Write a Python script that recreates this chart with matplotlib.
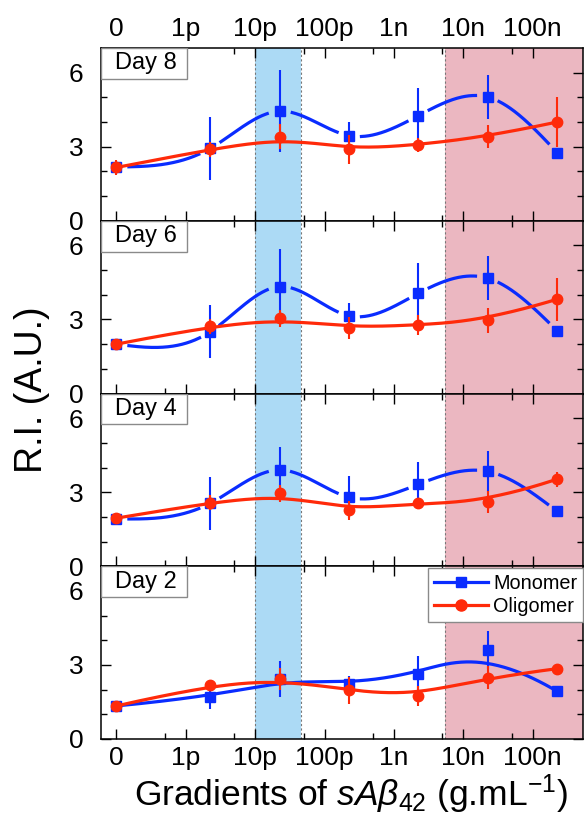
import numpy as np
import matplotlib
matplotlib.use("Agg")
from matplotlib import pyplot as plt
from matplotlib.lines import Line2D
from matplotlib.patches import Rectangle
from matplotlib.ticker import NullFormatter

plt.rcParams['font.family'] = ['Liberation Sans', 'DejaVu Sans']
plt.rcParams['mathtext.fontset'] = 'custom'
plt.rcParams['mathtext.rm'] = 'Liberation Sans'
plt.rcParams['mathtext.it'] = 'Liberation Sans:italic'

# concentrations (g/mL), "0" is drawn at 0.1p
conc = [1e-13, 2.25e-12, 2.25e-11, 2.25e-10, 2.25e-9, 2.25e-8, 2.25e-7]
tick_pos = [1e-13, 1e-12, 1e-11, 1e-10, 1e-9, 1e-8, 1e-7]
tick_lab = ['0', '1p', '10p', '100p', '1n', '10n', '100n']
minor_pos = [5e-13, 5e-12, 5e-11, 5e-10, 5e-9, 5e-8]
days = ['Day 8', 'Day 6', 'Day 4', 'Day 2']

mono_d8 = [2.18, 2.93, 4.44, 3.45, 4.26, 5.01, 2.76]
mono_d6 = [2.00, 2.50, 4.33, 3.15, 4.06, 4.67, 2.54]
mono_d4 = [1.92, 2.55, 3.90, 2.80, 3.32, 3.84, 2.22]
mono_d2 = [1.34, 1.70, 2.42, 2.24, 2.65, 3.60, 1.93]
mono_err_d8 = [0.10, 1.26, 1.65, 0.57, 1.12, 0.88, 0.10]
mono_err_d6 = [0.10, 1.07, 1.53, 0.50, 1.22, 0.90, 0.12]
mono_err_d4 = [0.10, 1.07, 0.93, 0.84, 0.92, 0.85, 0.15]
mono_err_d2 = [0.10, 0.50, 0.73, 0.30, 0.70, 0.78, 0.10]

olig_d8 = [2.16, 2.89, 3.41, 2.89, 3.07, 3.41, 4.00]
olig_d6 = [2.00, 2.73, 3.04, 2.67, 2.77, 2.97, 3.82]
olig_d4 = [1.95, 2.58, 2.96, 2.26, 2.58, 2.60, 3.53]
olig_d2 = [1.34, 2.20, 2.42, 1.97, 1.73, 2.49, 2.85]
olig_err_d8 = [0.29, 0.30, 0.50, 0.58, 0.30, 0.47, 1.00]
olig_err_d6 = [0.15, 0.30, 0.35, 0.45, 0.40, 0.50, 0.88]
olig_err_d4 = [0.12, 0.30, 0.35, 0.40, 0.20, 0.45, 0.30]
olig_err_d2 = [0.10, 0.15, 0.45, 0.55, 0.40, 0.45, 0.10]

mono_all = [mono_d8, mono_d6, mono_d4, mono_d2]
mono_err_all = [mono_err_d8, mono_err_d6, mono_err_d4, mono_err_d2]
olig_all = [olig_d8, olig_d6, olig_d4, olig_d2]
olig_err_all = [olig_err_d8, olig_err_d6, olig_err_d4, olig_err_d2]

BLUE = '#0a2cff'
RED = '#ff2a0a'


# smoothing curves like Origin's spline / b-spline connect (in log-x space)
def natural_spline(x, y, n=600):
    x = np.asarray(x, float); y = np.asarray(y, float)
    h = np.diff(x)
    k = len(x)
    A = np.zeros((k, k)); r = np.zeros(k)
    A[0, 0] = A[-1, -1] = 1
    for i in range(1, k - 1):
        A[i, i - 1] = h[i - 1]
        A[i, i] = 2 * (h[i - 1] + h[i])
        A[i, i + 1] = h[i]
        r[i] = 6 * ((y[i + 1] - y[i]) / h[i] - (y[i] - y[i - 1]) / h[i - 1])
    M = np.linalg.solve(A, r)
    xs = np.linspace(x[0], x[-1], n)
    j = np.clip(np.searchsorted(x, xs) - 1, 0, k - 2)
    t0 = x[j + 1] - xs; t1 = xs - x[j]
    ys = (M[j] * t0**3 + M[j + 1] * t1**3) / (6 * h[j]) \
        + (y[j] / h[j] - M[j] * h[j] / 6) * t0 + (y[j + 1] / h[j] - M[j + 1] * h[j] / 6) * t1
    return xs, ys


def bspline(x, y, n=600, deg=3):
    P = np.column_stack([x, y]).astype(float)
    m = len(P)
    knots = np.concatenate([np.zeros(deg), np.arange(m - deg + 1), np.full(deg, m - deg)]).astype(float)
    t = np.linspace(0, knots[-1], n)
    N = np.zeros((n, len(knots) - 1))
    for i in range(len(knots) - 1):
        N[:, i] = (knots[i] <= t) & (t < knots[i + 1])
    N[t == knots[-1], m - 1] = 1
    for d in range(1, deg + 1):
        Nn = np.zeros((n, len(knots) - 1 - d))
        for i in range(len(knots) - 1 - d):
            a = knots[i + d] - knots[i]
            b = knots[i + d + 1] - knots[i + 1]
            term = np.zeros(n)
            if a > 0:
                term += (t - knots[i]) / a * N[:, i]
            if b > 0:
                term += (knots[i + d + 1] - t) / b * N[:, i + 1]
            Nn[:, i] = term
        N = Nn
    C = N @ P
    return C[:, 0], C[:, 1]


def gap_to_symbol(ax, xs, ys, px, py, r):
    pts = ax.transData.transform(np.column_stack([xs, ys]))
    mk = ax.transData.transform(np.column_stack([px, py]))
    d = np.hypot(pts[:, None, 0] - mk[None, :, 0], pts[:, None, 1] - mk[None, :, 1]).min(axis=1)
    return np.where(d < r, np.nan, ys)


fig, axes = plt.subplots(4, 1, figsize=(5.84, 8.25), dpi=100)
fig.subplots_adjust(left=101/584, right=583/584, top=1-48/825, bottom=1-739/825, hspace=0)

lx = np.log10(conc)

for k, ax in enumerate(axes):
    ax.set_xscale('log')
    ax.set_xlim(6.0e-14, 5.3e-7)
    ax.set_ylim(0, 7)
    ax.set_xticks(tick_pos)
    ax.set_xticklabels(tick_lab)
    ax.set_xticks(minor_pos, minor=True)
    ax.xaxis.set_minor_formatter(NullFormatter())
    ax.set_yticks([0, 3, 6])
    ax.set_yticks([1, 2, 4, 5], minor=True)
    ax.tick_params(which='both', direction='in', top=True, right=True, width=1.0)
    ax.tick_params(which='major', length=7)
    ax.tick_params(which='minor', length=4.3)
    ax.tick_params(axis='x', labelsize=19, pad=5, labelbottom=(k == 3), labeltop=(k == 0))
    ax.tick_params(axis='y', labelsize=19, pad=12.5)
    for s in ax.spines.values():
        s.set_linewidth(1.1)

    ax.axvspan(1e-11, 4.6e-11, color='#acdaf5', lw=0, zorder=0)
    ax.axvspan(5.45e-9, 1e-6, color='#ebb7c1', lw=0, zorder=0)
    for xv in [1e-11, 4.6e-11, 5.45e-9]:
        ax.axvline(xv, color='#777777', lw=0.8, ls=(0, (2, 2)), zorder=1)

    m = mono_all[k]; me = mono_err_all[k]
    o = olig_all[k]; oe = olig_err_all[k]

    # monomer
    if k < 3:
        sx, sy = natural_spline(lx, m)
        sy = gap_to_symbol(ax, 10**sx, sy, conc, m, 12)
    else:
        sx, sy = bspline(lx, m)
    ax.plot(10**sx, sy, color=BLUE, lw=2.3, zorder=3)
    ax.errorbar(conc, m, yerr=me, fmt='none', ecolor=BLUE, elinewidth=1.5, capsize=0, zorder=4)
    ax.plot(conc, m, 's', color=BLUE, ms=6.5, zorder=5)

    # oligomer
    sx, sy = bspline(lx, o)
    ax.plot(10**sx, sy, color=RED, lw=2.3, zorder=6)
    ax.errorbar(conc, o, yerr=oe, fmt='none', ecolor=RED, elinewidth=1.5, capsize=0, zorder=7)
    ax.plot(conc, o, 'o', color=RED, ms=7.5, zorder=8)

    # day label box
    ax.add_patch(Rectangle((0, 1 - 31/173), 86/482, 31/173, transform=ax.transAxes,
                           facecolor='white', edgecolor='#8a8a8a', lw=1.0, zorder=9))
    ax.text(45/482, 1 - 15.5/173, days[k], transform=ax.transAxes, ha='center', va='center',
            fontsize=17, zorder=10)

handles = [Line2D([], [], color=BLUE, lw=2.3, marker='s', ms=7),
           Line2D([], [], color=RED, lw=2.3, marker='o', ms=8)]
leg = axes[3].legend(handles, ['Monomer', 'Oligomer'], loc='upper right',
                     bbox_to_anchor=(1.0, 0.99), fontsize=14.3, frameon=True, fancybox=False,
                     framealpha=1, edgecolor='#8a8a8a', handlelength=2.7, handletextpad=0.25,
                     labelspacing=0.22, borderpad=0.3, borderaxespad=0)
leg.get_frame().set_linewidth(1.0)
leg.set_zorder(20)

fig.text(351/584, 1 - 806/825, 'Gradients of $sA\\beta_{42}$ (g.mL$^{-1}$)', fontsize=25.5,
         ha='center', va='baseline')
fig.text(32/584, 1 - 390/825, 'R.I. (A.U.)', fontsize=27, rotation=90, ha='center', va='center')

plt.savefig('out.png', dpi=100)
